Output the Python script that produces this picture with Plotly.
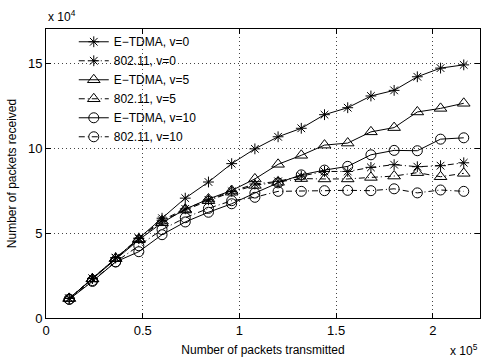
import plotly.graph_objects as go

# x values in units of 1e5 packets transmitted
x_tx = [0.12, 0.24, 0.36, 0.48, 0.60, 0.72, 0.84, 0.96, 1.08, 1.20,
        1.32, 1.44, 1.56, 1.68, 1.80, 1.92, 2.04, 2.16]

# y values in units of 1e4 packets received
etdma_v0 = [1.15, 2.32, 3.53, 4.67, 5.87, 7.05, 8.00, 9.08, 9.95, 10.66,
            11.16, 11.96, 12.37, 13.06, 13.39, 14.19, 14.70, 14.89]
w80211_v0 = [1.15, 2.33, 3.55, 4.70, 5.75, 6.42, 6.95, 7.45, 7.88, 8.04,
             8.35, 8.62, 8.62, 8.86, 9.02, 8.90, 8.96, 9.13]
etdma_v5 = [1.15, 2.30, 3.50, 4.60, 5.60, 6.40, 7.00, 7.50, 8.18, 9.04,
            9.57, 10.17, 10.29, 10.95, 11.20, 12.12, 12.33, 12.63]
w80211_v5 = [1.15, 2.30, 3.50, 4.65, 5.70, 6.35, 6.90, 7.40, 7.80, 7.98,
             8.20, 8.18, 8.18, 8.27, 8.35, 8.55, 8.31, 8.51]
etdma_v10 = [1.10, 2.15, 3.30, 3.90, 4.90, 5.65, 6.22, 6.72, 7.35, 7.95,
             8.42, 8.70, 8.92, 9.60, 9.86, 9.84, 10.52, 10.60]
w80211_v10 = [1.10, 2.20, 3.30, 4.25, 5.20, 5.90, 6.45, 6.90, 7.10, 7.45,
              7.45, 7.49, 7.51, 7.49, 7.60, 7.36, 7.53, 7.45]

x_ticks = [0, 0.5, 1, 1.5, 2]
x_tick_labels = ["0", "0.5", "1", "1.5", "2"]
y_ticks = [0, 5, 10, 15]
y_tick_labels = ["0", "5", "10", "15"]

series = [
    ("E\u2212TDMA, v=0", etdma_v0, "asterisk-open", "solid", 9),
    ("802.11, v=0", w80211_v0, "asterisk-open", "6px,3px,1px,3px", 9),
    ("E\u2212TDMA, v=5", etdma_v5, "triangle-up-open", "solid", 11),
    ("802.11, v=5", w80211_v5, "triangle-up-open", "6px,3px,1px,3px", 11),
    ("E\u2212TDMA, v=10", etdma_v10, "circle-open", "solid", 10),
    ("802.11, v=10", w80211_v10, "circle-open", "6px,3px,1px,3px", 10),
]

fig = go.Figure()
for name, ys, sym, dash, size in series:
    fig.add_trace(go.Scatter(
        x=x_tx, y=ys, name=name, mode="lines+markers",
        line=dict(color="black", width=1, dash=dash),
        marker=dict(symbol=sym, size=size, color="black",
                    line=dict(color="black", width=1)),
    ))

font_family = "Liberation Sans, Arial, sans-serif"
fig.update_layout(
    width=481, height=360,
    margin=dict(l=46, r=1, t=29, b=42, autoexpand=False),
    paper_bgcolor="white", plot_bgcolor="white",
    font=dict(family=font_family, size=12, color="black"),
    showlegend=True,
    legend=dict(x=0.064, y=1.006, xanchor="left", yanchor="top",
                bgcolor="rgba(255,255,255,0)", borderwidth=0,
                font=dict(size=12), tracegroupgap=0, itemwidth=30),
    xaxis=dict(range=[0, 2.244], tickvals=x_ticks, ticktext=x_tick_labels,
               ticks="inside", ticklen=5, tickcolor="black",
               showline=True, linecolor="black", linewidth=1, mirror="ticks",
               showgrid=True, gridcolor="#444", griddash="1px,3px", gridwidth=1,
               zeroline=False, tickfont=dict(size=13), automargin=False,
               title=dict(text="Number of packets transmitted",
                          font=dict(size=12), standoff=9)),
    yaxis=dict(range=[0, 17], tickvals=y_ticks, ticktext=y_tick_labels,
               ticks="inside", ticklen=5, tickcolor="black",
               showline=True, linecolor="black", linewidth=1, mirror="ticks",
               showgrid=True, gridcolor="#444", griddash="1px,3px", gridwidth=1,
               zeroline=False, tickfont=dict(size=13), automargin=False,
               title=dict(text="Number of packets received",
                          font=dict(size=12), standoff=8)),
    annotations=[
        dict(text="x 10<sup>4</sup>", xref="paper", yref="paper",
             x=0, y=1, xanchor="left", yanchor="bottom", yshift=3,
             showarrow=False, font=dict(size=12)),
        dict(text="x 10<sup>5</sup>", xref="paper", yref="paper",
             x=1, y=0, xanchor="right", yanchor="bottom", yshift=-42,
             showarrow=False, font=dict(size=12)),
    ],
)

fig.write_html("out.html",
               config={"displayModeBar": False},
               post_script="document.body.style.margin='0';"
                           "document.body.style.overflow='hidden';")
